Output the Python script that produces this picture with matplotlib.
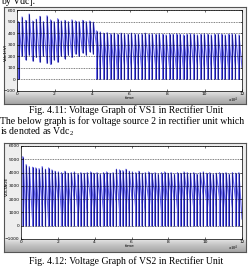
import matplotlib
matplotlib.use("Agg")
import matplotlib.pyplot as plt
import numpy as np

plt.rcParams['font.family'] = ['Liberation Serif', 'DejaVu Serif']
plt.rcParams['mathtext.fontset'] = 'custom'
plt.rcParams['mathtext.rm'] = 'Liberation Serif'

W, H = 249, 268

# ---- data ----
# Fig 4.11 (VS1): rising-edge times, peak and trough per cycle
t1 = [0.08, 0.27, 0.46, 0.65, 0.84, 1.03, 1.22, 1.41, 1.60, 1.79, 1.98,
      2.17, 2.36, 2.55, 2.74, 2.93, 3.12, 3.31, 3.50, 3.69, 3.88, 4.07,
      4.25, 4.44, 4.62, 4.81, 4.99, 5.18, 5.36, 5.55, 5.73, 5.92, 6.10,
      6.29, 6.47, 6.66, 6.84, 7.03, 7.21, 7.40, 7.58, 7.77, 7.95, 8.14,
      8.32, 8.51, 8.69, 8.88, 9.06, 9.25, 9.43, 9.62, 9.80, 9.99, 10.17,
      10.36, 10.54, 10.73, 10.91, 11.10, 11.28, 11.47, 11.65, 11.84]
pk1 = [500, 540, 510, 565, 505, 520, 545, 500, 550, 515, 500,
       525, 505, 510, 500, 515, 505, 500, 510, 500, 505, 495,
       420, 410, 400, 405, 395, 400, 390, 400, 395, 390, 400,
       395, 390, 395, 400, 390, 395, 390, 395, 390, 385, 395,
       390, 395, 390, 385, 390, 395, 390, 385, 390, 395, 390,
       385, 390, 395, 390, 385, 390, 395, 390, 385]
tr1 = [200, 170, 210, 160, 190, 150, 200, 140, 130, 170, 150,
       200, 180, 210, 190, 220, 200, 230, 210, 240, 220, 280,
       100, 80, 120, 90, 110, 70, 100, 120, 80, 100, 90,
       110, 80, 100, 120, 90, 100, 80, 110, 90, 100, 120,
       80, 100, 90, 110, 80, 100, 120, 90, 100, 80, 110,
       90, 100, 120, 80, 100, 90, 110, 80, 100]
# bottom of each rising edge
lo1 = [0, 200, 170, 210, 160, 190, 150, 200, 140, 130, 170,
       150, 200, 180, 210, 190, 220, 200, 230, 210, 240, 220,
       0, 0, 0, 0, 0, 0, 0, 0, 0, 0, 0,
       0, 0, 0, 0, 0, 0, 0, 0, 0, 0, 0,
       0, 0, 0, 0, 0, 0, 0, 0, 0, 0, 0,
       0, 0, 0, 0, 0, 0, 0, 0, 0]

# Fig 4.12 (VS2)
t2 = [0.10, 0.28, 0.45, 0.63, 0.80, 0.98, 1.15, 1.33, 1.50, 1.68, 1.85,
      2.03, 2.20, 2.38, 2.55, 2.73, 2.90, 3.08, 3.25, 3.43, 3.60, 3.78,
      3.95, 4.13, 4.30, 4.48, 4.65, 4.83, 5.00, 5.18, 5.35, 5.53, 5.70,
      5.88, 6.05, 6.23, 6.40, 6.58, 6.75, 6.93, 7.10, 7.28, 7.45, 7.63,
      7.80, 7.98, 8.15, 8.33, 8.50, 8.68, 8.85, 9.03, 9.20, 9.38, 9.55,
      9.73, 9.90, 10.08, 10.25, 10.43, 10.60, 10.78, 10.95, 11.13, 11.30,
      11.48, 11.65, 11.83]
pk2 = [5200, 4600, 4450, 4400, 4350, 4300, 4450, 4250, 4350, 4200, 4100,
       4050, 4000, 4100, 3950, 4000, 4050, 3900, 4000, 3950, 4000, 4050,
       3950, 4000, 3900, 4000, 4050, 3950, 4000, 4250, 4200, 4150, 4250,
       4100, 4050, 4000, 4100, 3950, 4000, 4050, 3950, 4000, 3900, 4000,
       4050, 3950, 4000, 3900, 4000, 3950, 4050, 4000, 3950, 4000, 3900,
       4000, 4050, 3950, 4000, 3900, 3950, 4000, 3950, 4000, 3900, 4000,
       3950, 4000]
tr2 = [300, 900, 400, 1200, 600, 1500, 800, 300, 1400, 700, 1800,
       1000, 500, 1600, 900, 1900, 1200, 600, 1700, 1000, 2000, 1300,
       700, 1800, 1100, 1900, 1400, 800, 1700, 1200, 2000, 1500, 900,
       1800, 1300, 2100, 1600, 1000, 1900, 1400, 2200, 1700, 1100, 2000,
       1500, 2300, 1800, 1200, 2100, 1600, 2200, 1700, 1300, 2000, 1500,
       2300, 1800, 1200, 1900, 1400, 2100, 1600, 1000, 1800, 1300, 2000,
       1500, 500]

xticks = [0, 2, 4, 6, 8, 10, 12]
yticks1 = [-100, 0, 100, 200, 300, 400, 500, 600]
yticks2 = [-1000, 0, 1000, 2000, 3000, 4000, 5000, 6000]

DARK = '#1a1a90'
LIGHT = '#6a6aee'


def fx(x, y):
    return x / W, 1 - y / H


def rect(x0, y0, x1, y1):
    return [x0 / W, 1 - y1 / H, (x1 - x0) / W, (y1 - y0) / H]


def wave(ts, pks, trs, los, t_end):
    xs, ys = [], []
    for i in range(len(ts)):
        nt = ts[i + 1] if i + 1 < len(ts) else t_end
        xs += [ts[i], ts[i], nt]
        ys += [los[i], pks[i], trs[i]]
    return xs, ys


fig = plt.figure(figsize=(W / 100, H / 100), dpi=100)
fig.patch.set_facecolor('white')

# grey MATLAB frames
grad = np.linspace(0, 1, 100).reshape(-1, 1)
for box, ax_bottom in [((4, 7, 246, 104), 91), ((4, 143, 246, 252), 239)]:
    bg = fig.add_axes(rect(*box))
    frac = (ax_bottom - box[1]) / (box[3] - box[1])
    shade = np.where(grad < frac, 0.93, 0.93 - 0.28 * ((grad - frac) / (1 - frac)) ** 0.8)
    bg.imshow(shade, cmap='gray', vmin=0, vmax=1, aspect='auto',
              extent=[0, 1, 0, 1])
    bg.set_xticks([])
    bg.set_yticks([])
    for s in bg.spines.values():
        s.set_color('#555555')
        s.set_linewidth(0.8)


def panel(pos, ts, pks, trs, los, ylim, yticks):
    ax = fig.add_axes(pos)
    ax.set_facecolor('white')
    xs, ys = wave(ts, pks, trs, los, 12)
    ax.plot(xs, ys, color=LIGHT, lw=0.85)
    ax.vlines(ts, los, pks, color=DARK, lw=0.75)
    ax.set_xlim(0, 12)
    ax.set_ylim(*ylim)
    ax.set_xticks(xticks)
    ax.set_yticks(yticks)
    ax.grid(axis='y', color='black', ls=(0, (1.5, 1.5)), lw=0.4)
    ax.set_axisbelow(False)
    ax.tick_params(direction='in', length=1.5, width=0.4, labelsize=3.2,
                   pad=1, top=True, right=True)
    for s in ax.spines.values():
        s.set_linewidth(0.5)
    for lab in ax.get_xticklabels() + ax.get_yticklabels():
        lab.set_family('DejaVu Sans')
    return ax


ax1 = panel(rect(17, 10, 242, 91), t1, pk1, tr1, lo1, (-100, 600), yticks1)
ax2 = panel(rect(21, 146, 242, 239), t2, pk2, tr2, [0] * len(t2),
            (-1000, 6000), yticks2)

# axis labels
fig.text(*fx(6, 52), 'Vdc1(V)', fontsize=3.2, rotation=90, ha='center',
         va='center', family='DejaVu Sans')
fig.text(*fx(7, 186), 'VOLTAGE', fontsize=3.2, rotation=90, ha='center',
         va='center', family='DejaVu Sans')
for ty, ey in [(98, 100), (246, 248)]:
    fig.text(*fx(130, ty), 'time', fontsize=3.2, ha='center', va='center',
             family='DejaVu Sans')
    fig.text(*fx(239, ey), r'x$10^4$', fontsize=3.2, ha='right', va='center',
             family='DejaVu Sans')

fs = 7
fig.text(*fx(1, 4), 'by Vdc].', fontsize=fs, ha='left', va='baseline')
fig.text(*fx(126, 110), 'Fig. 4.11: Voltage Graph of VS1 in Rectifier Unit',
         fontsize=fs, ha='center', va='center')
fig.text(*fx(0, 121), 'The below graph is for voltage source 2 in rectifier unit which',
         fontsize=fs, ha='left', va='center')
fig.text(*fx(0, 132), r'is denoted as Vdc$_\mathregular{2}$',
         fontsize=fs, ha='left', va='center')
fig.text(*fx(126, 261), 'Fig. 4.12: Voltage Graph of VS2 in Rectifier Unit',
         fontsize=fs, ha='center', va='center')

fig.savefig('out.png', dpi=100, facecolor='white')
